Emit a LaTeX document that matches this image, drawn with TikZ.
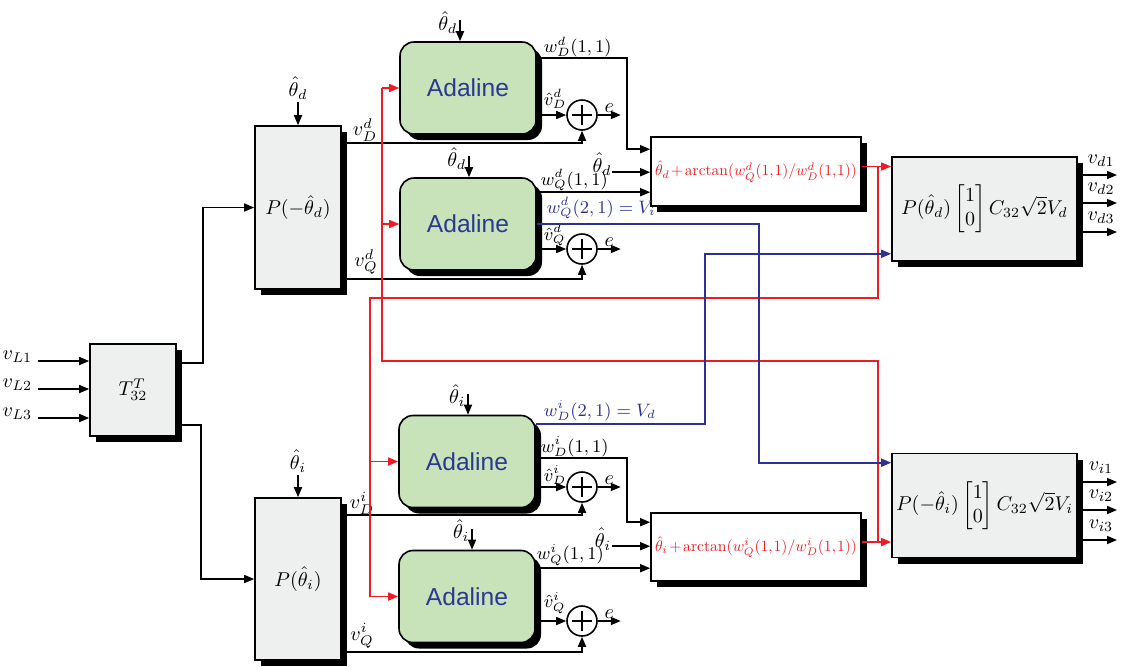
\documentclass[tikz,border=0pt]{standalone}
\usepackage{amsmath}
\usepackage{graphicx}
\usepackage{fontspec}
\newfontfamily\adafont{Liberation Sans}
\usetikzlibrary{arrows.meta,shadows}

\definecolor{blockgray}{RGB}{238,240,239}
\definecolor{adagreen}{RGB}{200,226,186}
\definecolor{adablue}{RGB}{43,57,144}
\definecolor{sigred}{RGB}{237,28,36}
\definecolor{sigblue}{RGB}{46,49,146}

\begin{document}
\begin{tikzpicture}[x=0.5pt,y=-0.5pt,>={Triangle[length=5pt,width=4pt]},line width=0.8pt,
  block/.style={draw,fill=blockgray,inner sep=1pt,
    drop shadow={shadow xshift=3pt,shadow yshift=-3pt,fill=black,opacity=1}},
  ada/.style={block,fill=adagreen,rounded corners=7pt,minimum width=68pt,minimum height=46pt,
    font=\adafont\fontsize{12.3}{14}\selectfont,text=adablue},
  summer/.style={circle,draw,fill=white,minimum size=15pt,inner sep=0pt,
    path picture={\draw ([yshift=-2.5pt]path picture bounding box.north)--([yshift=2.5pt]path picture bounding box.south)
      ([xshift=2.5pt]path picture bounding box.west)--([xshift=-2.5pt]path picture bounding box.east);}},
  lbl/.style={inner sep=1pt},
  wlbl/.style={lbl,anchor=west,font=\small}]
\useasboundingbox (0,0) rectangle (1122,666);

% Pixel grid of the original figure: x to the right, y downwards.
\node[block,minimum width=43pt,minimum height=46pt] (Tmat) at (133,390) {$T_{32}^{T}$};
\foreach \i/\y in {1/361,2/389,3/418}{
  \coordinate (inL\i) at (38,\y);
  \node[anchor=east,lbl] (vL\i) at (35,\y-4) {$v_{L\i}$};
  \draw[->] (inL\i) -- (inL\i -| Tmat.west);
}

% Park transforms for the d and i parts.
\node[block,minimum width=43pt,minimum height=81.5pt] (Pd) at (298,207.5) {$P(-\hat{\theta}_d)$};
\node[block,minimum width=43pt,minimum height=81pt] (Pi) at (298,579) {$P(\hat{\theta}_i)$};
\node[lbl] (thPd) at (298,88) {$\hat{\theta}_d$};
\draw[->] (thPd.south) -- (Pd.north);
\node[lbl] (thPi) at (298,461) {$\hat{\theta}_i$};
\draw[->] (thPi.south) -- (Pi.north);
\draw[->] (Tmat.east) ++(0,-27) -- ++(26,0) |- (Pd.west);
\draw[->] (Tmat.east) ++(0,35) -- ++(24,0) |- (Pi.west);

% Adaline estimators and error summers.
\node[ada] (adaDD) at (468,88) {Adaline};
\node[ada] (adaDQ) at (468,224) {Adaline};
\node[ada] (adaID) at (467,461.5) {Adaline};
\node[ada] (adaIQ) at (467,596.5) {Adaline};
\foreach \a/\dx/\t in {adaDD/-8/d,adaDQ/1/d,adaID/1/i,adaIQ/5/i}{
  \draw[->] (\a.north) ++(\dx,-21) coordinate (th\a) -- ++(0,21);
  \node[anchor=east,lbl] (thl\a) at ([yshift=-1pt]th\a) {$\hat{\theta}_\t$};
}
\foreach \a/\s/\y in {adaDD/sumDD/115,adaDQ/sumDQ/249,adaID/sumID/487,adaIQ/sumIQ/621}{
  \node[summer] (\s) at (582,\y) {};
  \draw[->] (\a.east |- \s) -- (\s.west);
  \draw[->] (\s.east) -- ++(23,0) node[midway,above,lbl] (e\s) {$e$};
}
\node[wlbl] (vhDD) at (541,99) {$\hat{v}_D^d$};
\node[wlbl] (vhDQ) at (541,235) {$\hat{v}_Q^d$};
\node[wlbl] (vhID) at (541,475) {$\hat{v}_D^i$};
\node[wlbl] (vhIQ) at (541,603) {$\hat{v}_Q^i$};

% Measured dq signals into the summers.
\draw[->] (Pd.north east) ++(0,18) -| (sumDD.south);
\draw[->] (Pd.south east) ++(0,-11) -| (sumDQ.south);
\draw[->] (Pi.north east) ++(0,18) -| (sumID.south);
\draw[->] (Pi.south east) ++(0,-9) -| (sumIQ.south);
\node[lbl] (vDd) at (365,130) {$v_D^d$};
\node[lbl] (vQd) at (366,262) {$v_Q^d$};
\node[lbl] (vDi) at (362,503) {$v_D^i$};
\node[lbl] (vQi) at (362,636) {$v_Q^i$};

% Angle correction blocks.
\node[block,fill=white,minimum width=105pt,minimum height=34.5pt,text=sigred] (atanD) at (756,171.5)
  {\medmuskip=2mu\thinmuskip=1mu\resizebox{101pt}{!}{$\hat{\theta}_d+\arctan(w_Q^d(1,1)/w_D^d(1,1))$}};
\node[block,fill=white,minimum width=105pt,minimum height=34pt,text=sigred] (atanI) at (756,547)
  {\medmuskip=2mu\thinmuskip=1mu\resizebox{101pt}{!}{$\hat{\theta}_i+\arctan(w_Q^i(1,1)/w_D^i(1,1))$}};
\path (atanD.north west) ++(0,13) coordinate (aD1) ++(0,23) coordinate (aD2) ++(0,20) coordinate (aD3);
\path (atanI.north west) ++(0,10) coordinate (aI1) ++(0,24) coordinate (aI2) ++(0,22) coordinate (aI3);
\draw[->] (adaDD.north east) ++(0,17) -- ++(90,0) |- (aD1);
\draw[->] (adaDQ.east |- aD3) -- (aD3);
\draw[->] (aD2) ++(-38,0) -- (aD2);
\draw[->] (adaID.north east) ++(0,43.5) -- ++(91,0) |- (aI1);
\draw[->] (adaIQ.east |- aI3) -- (aI3);
\draw[->] (aI2) ++(-38,0) -- (aI2);
\node[wlbl] (wDd) at (541,47) {$w_D^d(1,1)$};
\node[wlbl] (wQd) at (538,180) {$w_Q^d(1,1)$};
\node[wlbl] (wDi) at (538,447) {$w_D^i(1,1)$};
\node[wlbl] (wQi) at (534,555) {$w_Q^i(1,1)$};
\node[lbl] (thaD) at (602,164) {$\hat{\theta}_d$};
\node[lbl] (thaI) at (603,539) {$\hat{\theta}_i$};

% Output voltage generators.
\node[block,minimum width=92.5pt,minimum height=52pt] (outD) at (984.5,209)
  {$P(\hat{\theta}_d)\begin{bmatrix}1\\0\end{bmatrix}C_{32}\sqrt{2}V_d$};
\node[block,minimum width=92.5pt,minimum height=52pt] (outI) at (984.5,505.5)
  {$P(-\hat{\theta}_i)\begin{bmatrix}1\\0\end{bmatrix}C_{32}\sqrt{2}V_i$};
\foreach \k/\y in {1/175,2/203,3/232}{
  \coordinate (od\k) at (1117,\y);
  \draw[->] (outD.east |- od\k) -- (od\k);
  \node[lbl] (vd\k) at (1101,\y-14) {$v_{d\k}$};
}
\foreach \k/\y in {1/482,2/510,3/540}{
  \coordinate (oi\k) at (1117,\y);
  \draw[->] (outI.east |- oi\k) -- (oi\k);
  \node[lbl] (vi\k) at (1101,\y-14) {$v_{i\k}$};
}

% Angle estimates: to the generators and across to the other Adalines.
\coordinate (redX) at (878,0);
\coordinate (thD) at ([yshift=2.5pt]atanD.east);
\coordinate (thI) at ([yshift=2.5pt]atanI.east);
\draw[sigred,->] (thD) -- (thD -| outD.west);
\draw[sigred,->] (thI) -- (thI -| outI.west);
\coordinate (redD) at (370,298);
\draw[sigred] (thD -| redX) |- (redD) -- (redD |- adaIQ.west);
\draw[sigred,->] (redD |- adaID.west) -- (adaID.west);
\draw[sigred,->] (redD |- adaIQ.west) -- (adaIQ.west);
\coordinate (redI) at (382,361);
\draw[sigred] (thI -| redX) |- (redI) -- (redI |- adaDD.west);
\draw[sigred,->] (redI |- adaDD.west) -- (adaDD.west);
\draw[sigred,->] (redI |- adaDQ.west) -- (adaDQ.west);

% Amplitude estimates swapped between the parts.
\coordinate (blueI) at (759,0);
\coordinate (blueD) at (705,0);
\draw[sigblue,->] (adaDQ.east) -- (adaDQ.east -| blueI) |- ([yshift=-5pt]outI.north west);
\draw[sigblue,->] (adaID.north east) ++(0,9.5) coordinate (bD0) -- (bD0 -| blueD) |- ([yshift=4pt]outD.south west);
\node[wlbl,text=sigblue] (wQd21) at (544,208) {$w_Q^d(2,1)=V_i$};
\node[wlbl,text=sigblue] (wDi21) at (541,411) {$w_D^i(2,1)=V_d$};
\end{tikzpicture}
\end{document}
